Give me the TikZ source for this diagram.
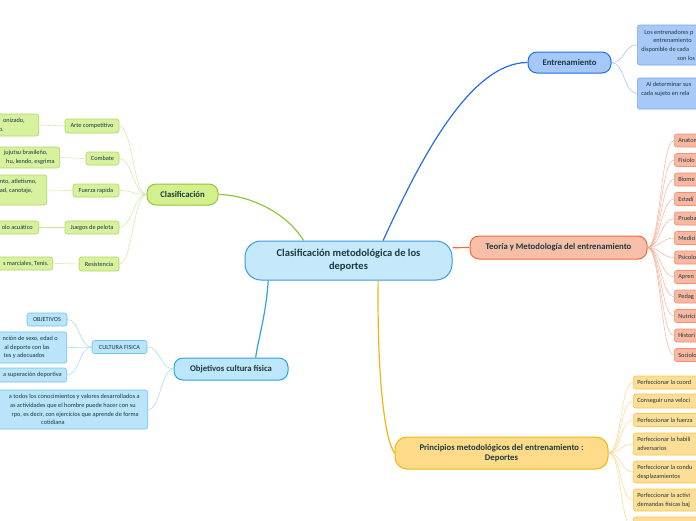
\documentclass[tikz,border=0pt]{standalone}
\usepackage{fontspec}
\setmainfont{Carlito}
\usetikzlibrary{positioning}

\definecolor{ink}{HTML}{1B3A3F}
\definecolor{rootfill}{HTML}{C5E9FB}
\definecolor{rootline}{HTML}{3A9AE0}
\definecolor{entfill}{HTML}{A5C8F9}
\definecolor{entline}{HTML}{2370DE}
\definecolor{entkid}{HTML}{A8C8F8}
\definecolor{entkidline}{HTML}{7AA7EE}
\definecolor{entlink}{HTML}{8FB5F0}
\definecolor{teofill}{HTML}{F8BFA8}
\definecolor{teoline}{HTML}{F26B3E}
\definecolor{teokid}{HTML}{F8B8A1}
\definecolor{teokidline}{HTML}{F4906F}
\definecolor{teolink}{HTML}{F8A488}
\definecolor{prifill}{HTML}{FDDB88}
\definecolor{priline}{HTML}{F6B40E}
\definecolor{prikid}{HTML}{FDDE96}
\definecolor{prikidline}{HTML}{F8C74E}
\definecolor{prilink}{HTML}{FAD27A}
\definecolor{clsfill}{HTML}{D4F08C}
\definecolor{clsline}{HTML}{92C53A}
\definecolor{clskid}{HTML}{D8F19F}
\definecolor{clskidline}{HTML}{AED85C}
\definecolor{clslink}{HTML}{C5E597}
\definecolor{objfill}{HTML}{BEE6FA}
\definecolor{objline}{HTML}{2BA5E2}
\definecolor{objkid}{HTML}{B9E4F9}
\definecolor{objkidline}{HTML}{6EC4EC}
\definecolor{objlink}{HTML}{92D2F1}

\newcommand\padR[1]{\hbox to #1{}}

\begin{document}
\begin{tikzpicture}[x=1pt,y=-1pt,
	topic/.style={draw, line width=1pt, rounded corners=9pt, text=ink, inner sep=2pt, font=\fontsize{8.7}{10.5}\selectfont\bfseries},
	leaf/.style={draw, line width=0.6pt, rounded corners=2.5pt, text=ink, inner xsep=4pt, inner ysep=1pt, font=\fontsize{6.3}{8.7}\selectfont},
	cutR/.style={leaf, anchor=west, text width=90pt, align=flush left},
	cutL/.style={leaf, anchor=east, text width=90pt, align=flush right},
	twig/.style={line width=0.7pt, out=#1, in=#1+180, distance=13pt},
	twig/.default=0]
	\fill[white] (0,0) rectangle (696,520);
	\useasboundingbox (0,0) rectangle (696,520);

	% main topics
	\node[topic, fill=rootfill, draw=rootline, rounded corners=16pt, minimum width=207, minimum height=39, align=center, font=\fontsize{10.5}{13}\selectfont\bfseries] (root) at (348.5,260.5) {Clasificación metodológica de los\\deportes};
	\node[topic, fill=entfill, draw=entline, minimum width=83, minimum height=21] (ent) at (569.5,62.5) {Entrenamiento};
	\node[topic, fill=teofill, draw=teoline, minimum width=177, minimum height=23] (teo) at (558.5,247.5) {Teoría y Metodología del entrenamiento};
	\node[topic, fill=prifill, draw=priline, rounded corners=12pt, minimum width=213, minimum height=32, align=center] (pri) at (501.5,453) {Principios metodológicos del entrenamiento :\\Deportes};
	\node[topic, fill=clsfill, draw=clsline, minimum width=71, minimum height=21] (cls) at (182.5,194.5) {Clasificación};
	\node[topic, fill=objfill, draw=objline, minimum width=114, minimum height=22] (obj) at (231,369) {Objetivos cultura física};

	\draw[entline, line width=1.2pt] (root.30) .. controls (420,160) and (470,62.5) .. (ent.west);
	\draw[teoline, line width=1.2pt] (root.7) to[out=0, in=180] (teo.west);
	\draw[priline, line width=1.2pt] (root.-34) .. controls (377,380) and (385,440) .. (pri.west);
	\draw[clsline, line width=1.2pt] (root.156) .. controls (285,210) and (245,194.5) .. (cls.east);
	\draw[objline, line width=1.2pt] (root.194) .. controls (266,315) and (258,340) .. (obj.25);

	% Entrenamiento
	\node[cutR, fill=entkid, draw=entkidline, minimum height=40, text width=110pt] (e1) at (637,45) {\hspace*{3pt}Los entrenadores p\\\hspace*{12pt}entrenamiento\\disponible de cada\\\hspace*{36pt}son los};
	\node[cutR, fill=entkid, draw=entkidline, minimum height=31, text width=110pt] (e2) at (637,93.5) {\hspace*{5pt}Al determinar sus\\cada sujeto en rela\\\mbox{}};
	\draw[entlink] (ent.east) to[twig] (e1.west);
	\draw[entlink] (ent.east) to[twig] (e2.west);

	% Teoria y Metodologia
	\node[cutR, fill=teokid, draw=teokidline, minimum height=13] (t1) at (674,140.5) {Anatom};
	\node[cutR, fill=teokid, draw=teokidline, minimum height=13] (t2) at (674,160) {Fisiolo};
	\node[cutR, fill=teokid, draw=teokidline, minimum height=13] (t3) at (674,179.5) {Biome};
	\node[cutR, fill=teokid, draw=teokidline, minimum height=13] (t4) at (674,199) {Estadí};
	\node[cutR, fill=teokid, draw=teokidline, minimum height=13] (t5) at (674,218.5) {Prueba};
	\node[cutR, fill=teokid, draw=teokidline, minimum height=13] (t6) at (674,238) {Medici};
	\node[cutR, fill=teokid, draw=teokidline, minimum height=13] (t7) at (674,257.5) {Psicolo};
	\node[cutR, fill=teokid, draw=teokidline, minimum height=13] (t8) at (674,277) {Apren};
	\node[cutR, fill=teokid, draw=teokidline, minimum height=13] (t9) at (674,296.5) {Pedag};
	\node[cutR, fill=teokid, draw=teokidline, minimum height=13] (t10) at (674,316) {Nutrici};
	\node[cutR, fill=teokid, draw=teokidline, minimum height=13] (t11) at (674,335.5) {Histori};
	\node[cutR, fill=teokid, draw=teokidline, minimum height=13] (t12) at (674,355) {Sociolo};
	\draw[teolink] (teo.east) to[twig] (t1.west);
	\draw[teolink] (teo.east) to[twig] (t2.west);
	\draw[teolink] (teo.east) to[twig] (t3.west);
	\draw[teolink] (teo.east) to[twig] (t4.west);
	\draw[teolink] (teo.east) to[twig] (t5.west);
	\draw[teolink] (teo.east) to[twig] (t6.west);
	\draw[teolink] (teo.east) to[twig] (t7.west);
	\draw[teolink] (teo.east) to[twig] (t8.west);
	\draw[teolink] (teo.east) to[twig] (t9.west);
	\draw[teolink] (teo.east) to[twig] (t10.west);
	\draw[teolink] (teo.east) to[twig] (t11.west);
	\draw[teolink] (teo.east) to[twig] (t12.west);

	% Principios
	\node[cutR, fill=prikid, draw=prikidline, minimum height=13] (p1) at (633,382.5) {Perfeccionar la coord};
	\node[cutR, fill=prikid, draw=prikidline, minimum height=14] (p2) at (633,401) {Conseguir una veloci};
	\node[cutR, fill=prikid, draw=prikidline, minimum height=13] (p3) at (633,420) {Perfeccionar la fuerza};
	\node[cutR, fill=prikid, draw=prikidline, minimum height=22] (p4) at (633,444) {Perfeccionar la habili\\adversarios};
	\node[cutR, fill=prikid, draw=prikidline, minimum height=22] (p5) at (633,472) {Perfeccionar la condu\\desplazamientos};
	\node[cutR, fill=prikid, draw=prikidline, minimum height=22] (p6) at (633,500) {Perfeccionar la activi\\demandas físicas baj};
	\node[cutR, fill=prikid, draw=prikidline, minimum height=22] (p7) at (633,528) {};
	\draw[prilink] (pri.east) to[twig] (p1.west);
	\draw[prilink] (pri.east) to[twig] (p2.west);
	\draw[prilink] (pri.east) to[twig] (p3.west);
	\draw[prilink] (pri.east) to[twig] (p4.west);
	\draw[prilink] (pri.east) to[twig] (p5.west);
	\draw[prilink] (pri.east) to[twig] (p6.west);
	\draw[prilink] (pri.east) to[twig] (p7.west);

	% Clasificacion
	\node[leaf, fill=clskid, draw=clskidline, minimum width=54, minimum height=14] (c1) at (92,126) {Arte competitivo};
	\node[leaf, fill=clskid, draw=clskidline, minimum width=33, minimum height=13] (c2) at (102.5,158.5) {Combate};
	\node[leaf, fill=clskid, draw=clskidline, minimum width=46, minimum height=13] (c3) at (96,190.5) {Fuerza rapida};
	\node[leaf, fill=clskid, draw=clskidline, minimum width=54, minimum height=13] (c4) at (92,227.5) {Juegos de pelota};
	\node[leaf, fill=clskid, draw=clskidline, minimum width=40, minimum height=14] (c5) at (99,264) {Resistencia};
	\draw[clslink] (cls.west) to[twig=180] (c1.east);
	\draw[clslink] (cls.west) to[twig=180] (c2.east);
	\draw[clslink] (cls.west) to[twig=180] (c3.east);
	\draw[clslink] (cls.west) to[twig=180] (c4.east);
	\draw[clslink] (cls.west) to[twig=180] (c5.east);

	\node[cutL, fill=clskid, draw=clskidline, minimum height=22] (g1) at (39,125) {onizado,\padR{10pt}\\o.\padR{31pt}};
	\node[cutL, fill=clskid, draw=clskidline, minimum height=21] (g2) at (60,157.5) {jujutsu brasileño,\padR{8pt}\\hu, kendo, esgrima\padR{1pt}};
	\node[cutL, fill=clskid, draw=clskidline, minimum height=30] (g3) at (47,190) {nto, atletismo,\padR{6pt}\\ad, canotaje,\padR{10pt}\\\mbox{}};
	\node[cutL, fill=clskid, draw=clskidline, minimum height=13] (g4) at (39,227.5) {olo acuático\padR{2pt}};
	\node[cutL, fill=clskid, draw=clskidline, minimum height=13] (g5) at (53,263.5) {s marciales, Tenis.\padR{0pt}};
	\draw[clslink] (c1.west) -- (g1.east);
	\draw[clslink] (c2.west) -- (g2.east);
	\draw[clslink] (c3.west) -- (g3.east);
	\draw[clslink] (c4.west) -- (g4.east);
	\draw[clslink] (c5.west) -- (g5.east);

	% Objetivos cultura fisica
	\node[leaf, fill=objkid, draw=objkidline, inner xsep=3pt, minimum width=55, minimum height=13] (cf) at (119.5,347) {CULTURA FISICA};
	\node[cutL, fill=objkid, draw=objkidline, minimum height=39, text width=190pt] (o4) at (148,409.5) {a todos los conocimientos y valores desarrollados a\padR{4pt}\\as actividades que el hombre puede hacer con su\padR{8pt}\\rpo, es decir, con ejercicios que aprende de forma\padR{5pt}\\cotidiana\padR{79pt}};
	\draw[objlink] (obj.west) to[twig=180] (cf.east);
	\draw[objlink] (obj.west) to[twig=180] (o4.east);

	\node[leaf, fill=objkid, draw=objkidline, minimum width=40, minimum height=13] (o1) at (47,319.5) {OBJETIVOS};
	\node[cutL, fill=objkid, draw=objkidline, minimum height=31] (o2) at (67,347.5) {nción de sexo, edad o\padR{5pt}\\al deporte con las\padR{13pt}\\tes y adecuados\padR{18pt}};
	\node[cutL, fill=objkid, draw=objkidline, minimum height=14] (o3) at (67,375) {a superación deportiva\padR{1pt}};
	\draw[objlink] (cf.west) to[twig=180] (o1.east);
	\draw[objlink] (cf.west) to[twig=180] (o2.east);
	\draw[objlink] (cf.west) to[twig=180] (o3.east);
\end{tikzpicture}
\end{document}
